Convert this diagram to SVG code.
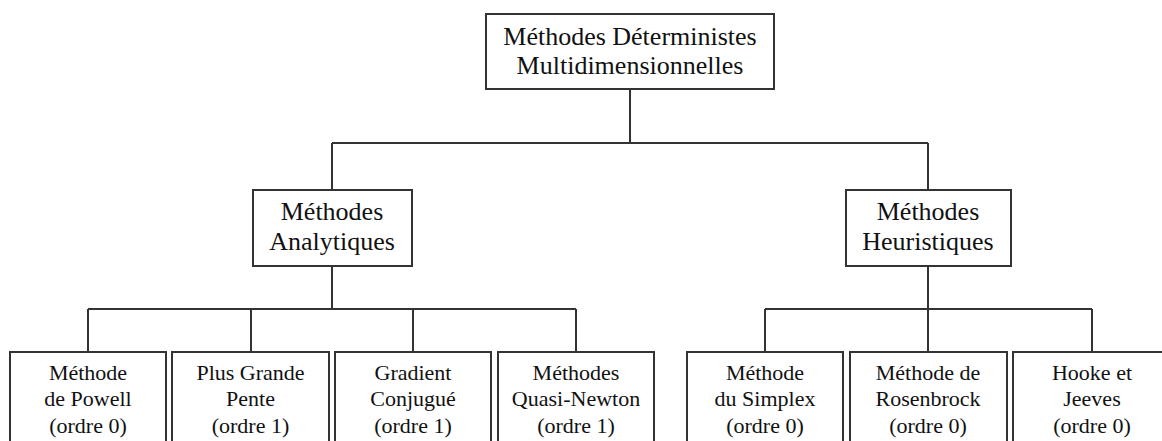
<svg xmlns="http://www.w3.org/2000/svg" width="1162" height="441" viewBox="0 0 1162 441">
  <style>
    .box { fill: #ffffff; stroke: #333333; stroke-width: 2; }
    .link { fill: none; stroke: #333333; stroke-width: 2; }
    text { font-family: "Liberation Serif", "Times New Roman", serif; fill: #111111; text-anchor: middle; }
    .t1 { font-size: 26px; }
    .t2 { font-size: 26px; }
    .t3 { font-size: 22px; }
  </style>
  <rect width="1162" height="441" fill="#ffffff"/>

  <!-- tree connectors -->
  <g id="connectors">
    <path class="link" d="M630,89 V143 M332,143 H928 M332,143 V190 M928,143 V190"/>
    <path class="link" d="M332,266 V309 M88,309 H576 M88,309 V352 M251,309 V352 M413,309 V352 M576,309 V352"/>
    <path class="link" d="M928,266 V309 M765,309 H1092 M765,309 V352 M928,309 V352 M1092,309 V352"/>
  </g>

  <!-- root -->
  <g id="root">
    <rect class="box" x="486" y="14" width="288" height="75"/>
    <text class="t1" x="630" y="45">Méthodes Déterministes</text>
    <text class="t1" x="630" y="74">Multidimensionnelles</text>
  </g>

  <!-- second level -->
  <g id="analytiques">
    <rect class="box" x="253" y="190" width="159" height="76"/>
    <text class="t2" x="332" y="220">Méthodes</text>
    <text class="t2" x="332" y="250">Analytiques</text>
  </g>
  <g id="heuristiques">
    <rect class="box" x="846" y="190" width="165" height="76"/>
    <text class="t2" x="928" y="220">Méthodes</text>
    <text class="t2" x="928" y="250">Heuristiques</text>
  </g>

  <!-- analytic methods -->
  <g id="powell">
    <rect class="box" x="10" y="352" width="156" height="100"/>
    <text class="t3" x="88" y="380">Méthode</text>
    <text class="t3" x="88" y="406">de Powell</text>
    <text class="t3" x="88" y="433">(ordre 0)</text>
  </g>
  <g id="plus-grande-pente">
    <rect class="box" x="172" y="352" width="157" height="100"/>
    <text class="t3" x="250.5" y="380">Plus Grande</text>
    <text class="t3" x="250.5" y="406">Pente</text>
    <text class="t3" x="250.5" y="433">(ordre 1)</text>
  </g>
  <g id="gradient-conjugue">
    <rect class="box" x="335" y="352" width="156" height="100"/>
    <text class="t3" x="413" y="380">Gradient</text>
    <text class="t3" x="413" y="406">Conjugué</text>
    <text class="t3" x="413" y="433">(ordre 1)</text>
  </g>
  <g id="quasi-newton">
    <rect class="box" x="498" y="352" width="156" height="100"/>
    <text class="t3" x="576" y="380">Méthodes</text>
    <text class="t3" x="576" y="406">Quasi-Newton</text>
    <text class="t3" x="576" y="433">(ordre 1)</text>
  </g>

  <!-- heuristic methods -->
  <g id="simplex">
    <rect class="box" x="687" y="352" width="156" height="100"/>
    <text class="t3" x="765" y="380">Méthode</text>
    <text class="t3" x="765" y="406">du Simplex</text>
    <text class="t3" x="765" y="433">(ordre 0)</text>
  </g>
  <g id="rosenbrock">
    <rect class="box" x="850" y="352" width="157" height="100"/>
    <text class="t3" x="928" y="380">Méthode de</text>
    <text class="t3" x="928" y="406">Rosenbrock</text>
    <text class="t3" x="928" y="433">(ordre 0)</text>
  </g>
  <g id="hooke-jeeves">
    <rect class="box" x="1013" y="352" width="158" height="100"/>
    <text class="t3" x="1092" y="380">Hooke et</text>
    <text class="t3" x="1092" y="406">Jeeves</text>
    <text class="t3" x="1092" y="433">(ordre 0)</text>
  </g>
</svg>
